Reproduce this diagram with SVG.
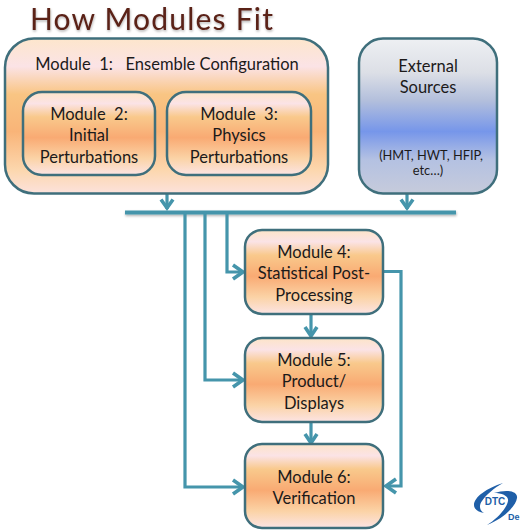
<svg xmlns="http://www.w3.org/2000/svg" width="520" height="530" viewBox="0 0 520 530">
<style>
text{font-family:"Lato","Open Sans","Liberation Sans",sans-serif;fill:#1c1a1a;text-anchor:middle}
.t{font-size:16.5px}
.box{stroke:#3f6f7c;stroke-width:2.5;fill:url(#warm)}
.con{fill:none;stroke:#4595ab;stroke-width:3.2}
.head{fill:none;stroke:#4595ab;stroke-width:3.6}
</style>
<defs>
<filter id="sh" x="-5%" y="-100%" width="110%" height="400%"><feDropShadow dx="0.500" dy="1.500" stdDeviation="1" flood-color="#000" flood-opacity="0.300"/></filter>
<linearGradient id="warm" x1="0" y1="0" x2="0" y2="1">
<stop offset="0" stop-color="#fde4c8"/><stop offset="0.14" stop-color="#fbe3e6"/><stop offset="0.3" stop-color="#f9c98c"/><stop offset="0.55" stop-color="#f9aa73"/><stop offset="0.8" stop-color="#fbd3a6"/><stop offset="1" stop-color="#fce4e4"/>
</linearGradient>
<linearGradient id="warm1" x1="0" y1="0" x2="0" y2="1">
<stop offset="0" stop-color="#fde6cc"/><stop offset="0.18" stop-color="#fbe3e6"/><stop offset="0.36" stop-color="#f9c583"/><stop offset="0.6" stop-color="#f9b478"/><stop offset="0.85" stop-color="#fcd7ae"/><stop offset="1" stop-color="#fce2dc"/>
</linearGradient>
<linearGradient id="blue" x1="0" y1="0" x2="0" y2="1">
<stop offset="0" stop-color="#eef0f3"/><stop offset="0.22" stop-color="#dcdfe6"/><stop offset="0.4" stop-color="#b3bfdc"/><stop offset="0.6" stop-color="#7696ea"/><stop offset="0.78" stop-color="#b4c1e2"/><stop offset="1" stop-color="#c6cbdb"/>
</linearGradient>
</defs>
<text x="152" y="30" filter="url(#sh)" style="font-size:30px;letter-spacing:1.2px;fill:#5a2018">How Modules Fit</text>
<g id="connectors">
<rect x="125" y="210.500" width="331" height="4" fill="#4595ab" filter="url(#sh)"/>
<path class="con" d="M167 194V209"/><path class="head" d="M161 199.500L167 208L173 199.500"/>
<path class="con" d="M407 194V209"/><path class="head" d="M401 199.500L407 208L413 199.500"/>
<path class="con" d="M227 213V272H243"/><path class="head" d="M233 265L243 272L233 279"/>
<path class="con" d="M205 213V380H243"/><path class="head" d="M233 373L243 380L233 387"/>
<path class="con" d="M185 213V487H243"/><path class="head" d="M233 480L243 487L233 494"/>
<path class="con" d="M384 271.500H401V486H388"/><path class="head" d="M396 479L386 486L396 493"/>
<path class="con" d="M311 315V335"/><path class="head" d="M305 327L311 336L317 327"/>
<path class="con" d="M311 423V442"/><path class="head" d="M305 434L311 443L317 434"/>
</g>
<g id="module1"><rect class="box" style="fill:url(#warm1)" x="5" y="38.500" width="323" height="155" rx="29"/>
<text class="t" x="167" y="70">Module &#160;1: &#160; Ensemble Configuration</text></g>
<g id="module2"><rect class="box" x="23" y="92" width="132" height="83" rx="19"/>
<text class="t" x="89" y="120">Module &#160;2:</text><text class="t" x="89" y="141">Initial</text><text class="t" x="89" y="163">Perturbations</text></g>
<g id="module3"><rect class="box" x="167" y="92" width="144" height="83" rx="19"/>
<text class="t" x="239" y="120">Module &#160;3:</text><text class="t" x="239" y="141">Physics</text><text class="t" x="239" y="163">Perturbations</text></g>
<g id="external"><rect class="box" style="fill:url(#blue)" x="359" y="38.500" width="138" height="155" rx="24"/>
<text class="t" x="428" y="72">External</text><text class="t" x="428" y="93">Sources</text>
<text x="431" y="160" style="font-size:12.800px">(HMT, HWT, HFIP,</text><text x="428" y="175" style="font-size:12.800px">etc…)</text></g>
<g id="module4"><rect class="box" x="245" y="230" width="138" height="84" rx="17"/>
<text class="t" x="314" y="258">Module 4:</text><text class="t" x="314" y="279">Statistical Post-</text><text class="t" x="314" y="301">Processing</text></g>
<g id="module5"><rect class="box" x="245" y="338" width="138" height="84" rx="17"/>
<text class="t" x="314" y="366">Module 5:</text><text class="t" x="314" y="387">Product/</text><text class="t" x="314" y="409">Displays</text></g>
<g id="module6"><rect class="box" x="245" y="444" width="138" height="84" rx="17"/>
<text class="t" x="314" y="483">Module 6:</text><text class="t" x="314" y="504">Verification</text></g>
<g id="logo">
<path d="M503 483C487 488 474 497 474 505C474 509 478 512 484 513C479 510 479 505 482 501C486 495 494 488 503 483Z" fill="#1f5fa8"/>
<path d="M494 493C507 489 518 491 517 498C516 506 504 518 487 525C497 519 507 508 508 501C509 496 502 493 494 493Z" fill="#1f5fa8"/>
<text x="495" y="505" style="font-size:10px;font-weight:900;fill:#1f5fa8;font-family:'Liberation Sans',sans-serif">DTC</text>
<text x="508" y="520" style="font-size:9px;font-weight:700;fill:#1f5fa8;text-anchor:start;font-family:'Liberation Sans',sans-serif">De</text>
</g>
</svg>
